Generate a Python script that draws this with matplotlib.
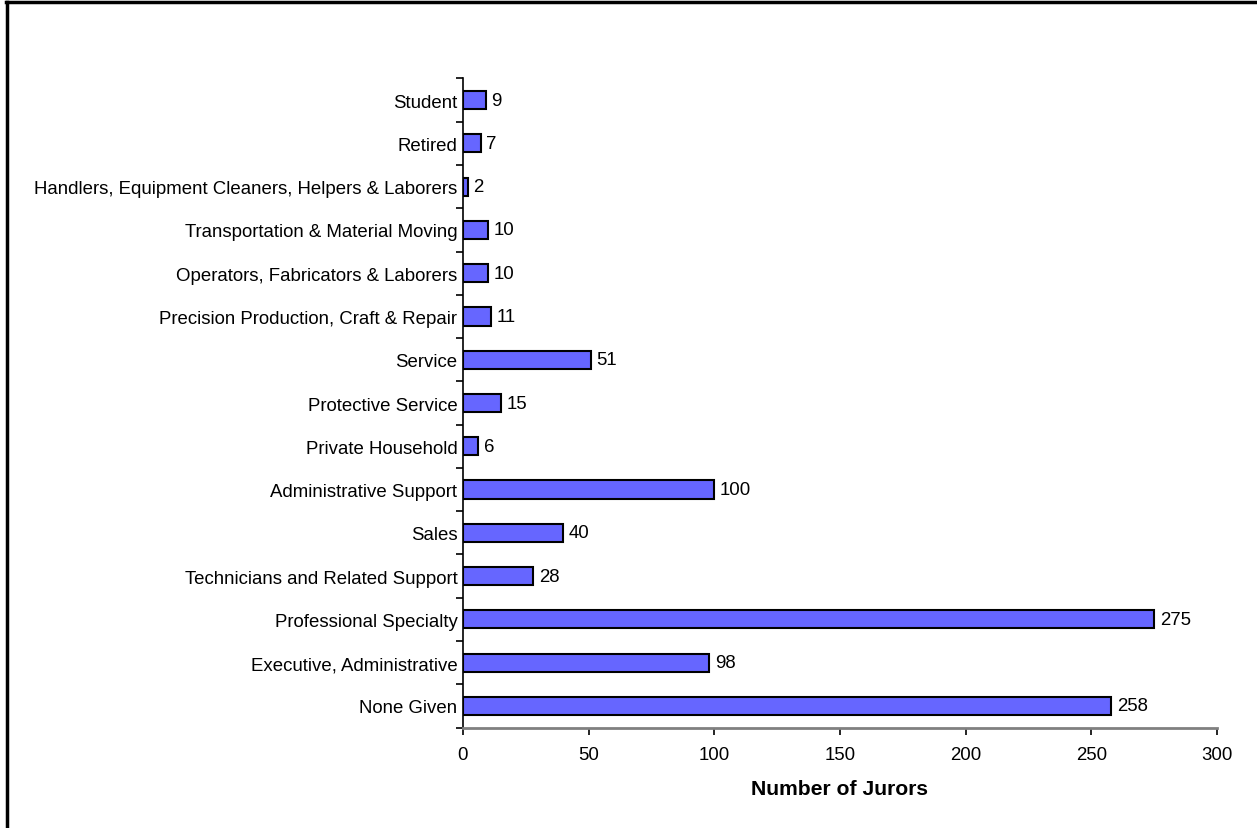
import matplotlib
matplotlib.use("Agg")
import matplotlib.pyplot as plt
import numpy as np
from matplotlib.lines import Line2D

# categories listed bottom to top
occupations = [
    "None Given",
    "Executive, Administrative",
    "Professional Specialty",
    "Technicians and Related Support",
    "Sales",
    "Administrative Support",
    "Private Household",
    "Protective Service",
    "Service",
    "Precision Production, Craft & Repair",
    "Operators, Fabricators & Laborers",
    "Transportation & Material Moving",
    "Handlers, Equipment Cleaners, Helpers & Laborers",
    "Retired",
    "Student",
]
jurors = [258, 98, 275, 28, 40, 100, 6, 15, 51, 11, 10, 10, 2, 7, 9]
x_ticks = [0, 50, 100, 150, 200, 250, 300]

plt.rcParams["font.family"] = ["Liberation Sans", "DejaVu Sans"]
FS = 13.4

fig = plt.figure(figsize=(12.57, 8.29), dpi=100)
ax = fig.add_axes([0.3683, 0.1211, 0.5999, 0.7831])

y = np.arange(len(occupations))
bars = ax.barh(y, jurors, height=0.42, color="#6666FF", edgecolor="black", linewidth=1.5)

for rect, v in zip(bars, jurors):
    ax.annotate(str(v), (rect.get_width(), rect.get_y() + rect.get_height() / 2),
                xytext=(4, 0), textcoords="offset points", va="center", ha="left", fontsize=FS)

ax.set_xlim(0, 300)
ax.set_ylim(-0.5, len(occupations) - 0.5)
ax.set_xticks(x_ticks)
ax.set_yticks(y)
ax.set_yticklabels(occupations)
ax.set_yticks(np.arange(-0.5, len(occupations)), minor=True)
ax.tick_params(axis="y", which="major", length=0, pad=4, labelsize=FS)
ax.tick_params(axis="y", which="minor", length=5, width=1.2, color="black", direction="out")
ax.tick_params(axis="x", length=5, width=1.2, color="black", direction="out", pad=8, labelsize=FS)

for s in ["top", "right"]:
    ax.spines[s].set_visible(False)
ax.spines["left"].set_color("black")
ax.spines["left"].set_linewidth(1.2)
ax.spines["bottom"].set_color("#808080")
ax.spines["bottom"].set_linewidth(2)

ax.set_xlabel("Number of Jurors", fontsize=15.2, fontweight="bold", labelpad=12)

# outer chart border (top and left edges visible)
fig.add_artist(Line2D([0.005, 1.0], [0.9965, 0.9965], transform=fig.transFigure, color="black", linewidth=2.5))
fig.add_artist(Line2D([0.0055, 0.0055], [0.0, 0.9965], transform=fig.transFigure, color="black", linewidth=2.5))

fig.savefig("out.png", dpi=100)
